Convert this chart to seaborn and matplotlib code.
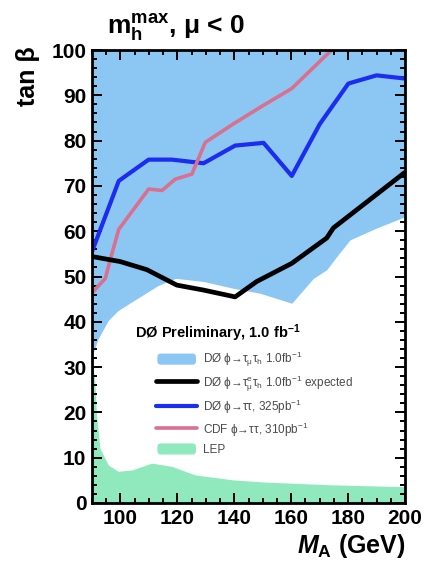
import numpy as np
import pandas as pd
import matplotlib
matplotlib.use("Agg")
import matplotlib.pyplot as plt
import seaborn as sns
from matplotlib.patches import Patch, FancyBboxPatch
from matplotlib.lines import Line2D
from matplotlib.legend_handler import HandlerPatch
from matplotlib.ticker import MultipleLocator

# Observed DØ exclusion (1.0 fb^-1): lower edge of excluded tan(beta), region extends to 100
excl_mass = [90, 92.2, 95.7, 99.2, 104, 113.2, 119.3, 129.2, 139.7, 149.1, 160.2, 167.8, 172.5, 176, 180.7, 190, 200]
excl_tanb = [32.5, 36.3, 40.3, 42.5, 44.4, 48.0, 49.6, 48.9, 47.4, 46.3, 44.1, 49.6, 51.5, 54.4, 58.1, 60.7, 63.2]

# LEP excluded region (upper edge)
lep_mass = [90, 91, 91.6, 92.8, 95.7, 99.2, 104, 111, 118, 126.2, 139.6, 151.4, 174.8, 200]
lep_tanb = [32.5, 26.8, 19.4, 12.1, 8.4, 7.0, 7.3, 8.8, 8.1, 6.2, 5.1, 4.6, 4.0, 3.6]

# DØ expected limit, 1.0 fb^-1
exp_mass = [90, 99.9, 109.3, 119.8, 129.2, 140.3, 147.9, 160.2, 172.5, 174.8, 200]
exp_tanb = [54.4, 53.3, 51.5, 48.1, 47.0, 45.5, 48.9, 52.9, 58.5, 60.7, 73.0]

# DØ phi->tautau, 325 pb^-1
d0_mass = [90, 99.4, 109.9, 118.1, 129.2, 140.3, 150.3, 160.2, 170.1, 180.1, 190.0, 200]
d0_tanb = [55.5, 71.1, 75.8, 75.8, 75.0, 78.9, 79.5, 72.2, 83.7, 92.6, 94.4, 93.7]

# CDF phi->tautau, 310 pb^-1
cdf_mass = [90.3, 94.7, 96.4, 99.4, 109.9, 114.6, 119.3, 125.1, 129.8, 139.7, 150.3, 160.2, 174.2]
cdf_tanb = [46.6, 49.6, 53.7, 60.4, 69.3, 69.0, 71.5, 72.6, 79.6, 83.7, 87.8, 91.5, 100.0]

labels = [
    "D\u00d8 \u03d5\u2192\u03c4$_\u03bc$\u03c4$_h$ 1.0fb$^{-1}$",
    "D\u00d8 \u03d5\u2192\u03c4$^e_\u03bc$\u03c4$_h$ 1.0fb$^{-1}$ expected",
    "D\u00d8 \u03d5\u2192\u03c4\u03c4, 325pb$^{-1}$",
    "CDF \u03d5\u2192\u03c4\u03c4, 310pb$^{-1}$",
    "LEP",
]

c_excl = "#8cc6f3"
c_lep = "#8fe9bd"
c_d0 = "#1c2cf0"
c_cdf = "#d9708f"

sns.set_theme(style="ticks")
plt.rcParams["font.family"] = ["Liberation Sans", "DejaVu Sans"]
plt.rcParams["mathtext.fontset"] = "custom"
plt.rcParams["mathtext.rm"] = "Liberation Sans"
plt.rcParams["mathtext.it"] = "Liberation Sans:italic:bold"
plt.rcParams["mathtext.default"] = "regular"
plt.rcParams["text.color"] = "black"
plt.rcParams["axes.labelcolor"] = "black"
plt.rcParams["xtick.color"] = "black"
plt.rcParams["ytick.color"] = "black"

fig = plt.figure(figsize=(4.24, 5.61), dpi=100)
ax = fig.add_axes([92 / 424, 1 - 503 / 561, 313 / 424, 453 / 561])
ax.set_axisbelow(False)

ax.fill_between(excl_mass, excl_tanb, 100, color=c_excl, lw=0, zorder=1)
ax.fill_between(lep_mass, 0, lep_tanb, color=c_lep, lw=0, zorder=1)

lines = pd.concat([
    pd.DataFrame({"mass": d0_mass, "tanb": d0_tanb, "curve": "d0"}),
    pd.DataFrame({"mass": cdf_mass, "tanb": cdf_tanb, "curve": "cdf"}),
    pd.DataFrame({"mass": exp_mass, "tanb": exp_tanb, "curve": "exp"}),
])
styles = {"d0": (c_d0, 3.0), "cdf": (c_cdf, 2.6), "exp": ("black", 3.4)}
for key, (col, lw) in styles.items():
    sns.lineplot(data=lines[lines.curve == key], x="mass", y="tanb", sort=False,
                 color=col, lw=lw, ax=ax, zorder=3, estimator=None)

ax.set_xlim(90, 200)
ax.set_ylim(0, 100)
ax.set_xlabel("")
ax.set_ylabel("")
ax.xaxis.set_major_locator(MultipleLocator(20))
ax.xaxis.set_minor_locator(MultipleLocator(5))
ax.yaxis.set_major_locator(MultipleLocator(10))
ax.yaxis.set_minor_locator(MultipleLocator(2))
ax.set_xticks([100, 120, 140, 160, 180, 200])
ax.tick_params(which="both", direction="in", top=True, right=True, width=1.4, color="black",
               labelcolor="black")
ax.tick_params(which="major", length=7, labelsize=15, pad=4)
ax.tick_params(which="minor", length=3.5)
for lab in ax.get_xticklabels() + ax.get_yticklabels():
    lab.set_fontweight("bold")
for sp in ax.spines.values():
    sp.set_linewidth(2.0)
    sp.set_color("black")
    sp.set_zorder(5)

fig.text(107 / 424, 1 - 34 / 561, "m$_h^{max}$, \u03bc < 0", fontsize=19, fontweight="bold",
         ha="left", va="baseline")
fig.text(28 / 424, 1 - 76 / 561, "tan \u03b2", fontsize=18, fontweight="bold",
         rotation=90, ha="center", va="center")
fig.text(406 / 424, 1 - 553 / 561, "$\\mathit{M}_A$ (GeV)", fontsize=18, fontweight="bold",
         ha="right", va="baseline")

fig.text(135 / 424, 1 - 338 / 561, "D\u00d8 Preliminary, 1.0 fb$^{-1}$", fontsize=10.5,
         fontweight="bold", ha="left", va="baseline")


class RoundPatchHandler(HandlerPatch):
    def create_artists(self, legend, orig_handle, xdescent, ydescent, width, height, fontsize, trans):
        p = FancyBboxPatch((-xdescent + 1, -ydescent + 0.5), width - 2, height - 1,
                           boxstyle="round,pad=0,rounding_size=2.5",
                           facecolor=orig_handle.get_facecolor(), edgecolor="none", transform=trans)
        return [p]


handles = [
    Patch(facecolor=c_excl),
    Line2D([], [], color="black", lw=3.4),
    Line2D([], [], color=c_d0, lw=3.0),
    Line2D([], [], color=c_cdf, lw=2.6),
    Patch(facecolor=c_lep),
]
leg = ax.legend(handles, labels, loc="upper left",
                bbox_to_anchor=(156 / 424, 1 - 350 / 561), bbox_transform=fig.transFigure,
                frameon=False, fontsize=8.5, handlelength=3.5, handleheight=1.25,
                handletextpad=0.5, labelspacing=0.35, borderpad=0, borderaxespad=0,
                handler_map={Patch: RoundPatchHandler()})
for t in leg.get_texts():
    t.set_color("#4a4a4a")

fig.savefig("out.png", dpi=100)
